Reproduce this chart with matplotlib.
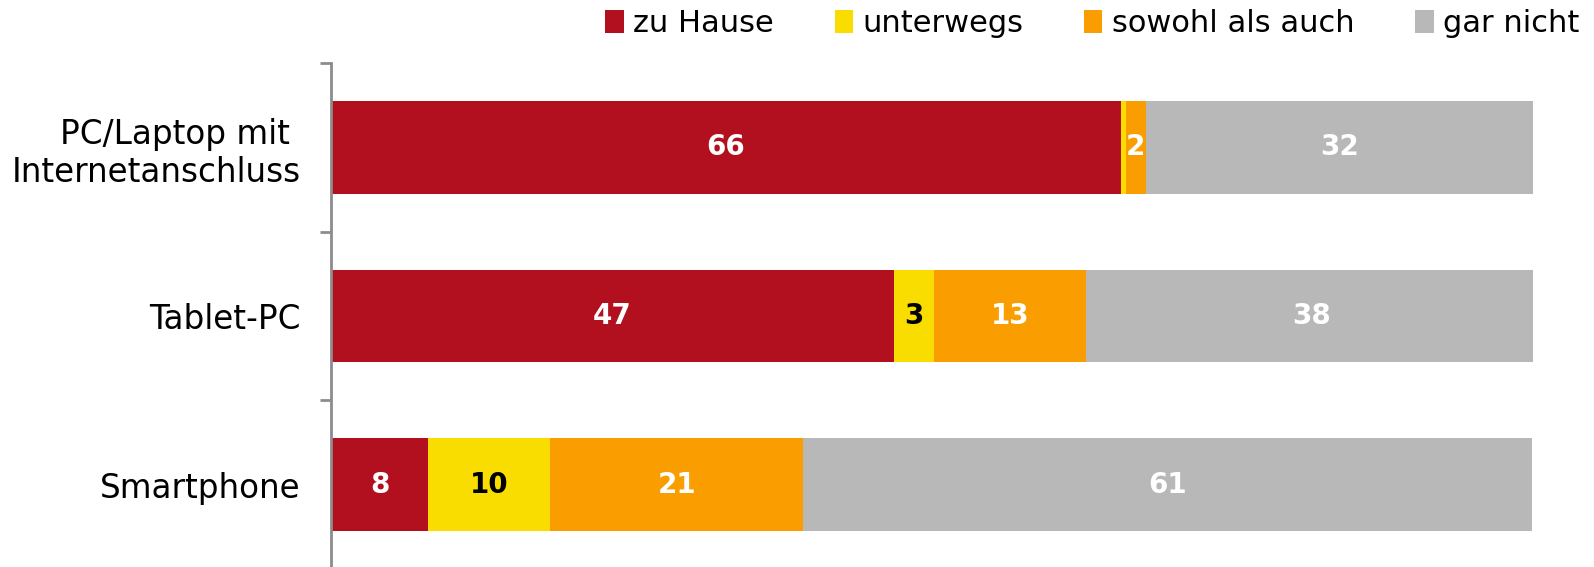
import matplotlib.pyplot as plt
import numpy as np

categories = ["PC/Laptop mit \nInternetanschluss", "Tablet-PC", "Smartphone"]
series = ["zu Hause", "unterwegs", "sowohl als auch", "gar nicht"]
zu_hause = [65.7, 46.8, 8.1]
unterwegs = [0.4, 3.4, 10.1]
sowohl = [1.7, 12.6, 21.1]
gar_nicht = [32.2, 37.6, 60.6]
colors = ["#B2101F", "#F9DC00", "#F99D00", "#B8B8B8"]
text_colors = ["white", "black", "white", "white"]

fig = plt.figure(figsize=(15.94, 5.67), dpi=100)
ax = fig.add_axes([331 / 1594, -2 / 567, 1202 / 1594, 506 / 567])

y = np.arange(len(categories))
left = np.zeros(len(categories))
for name, vals, col, tcol in zip(series, [zu_hause, unterwegs, sowohl, gar_nicht], colors, text_colors):
    bars = ax.barh(y, vals, left=left, height=0.55, color=col, label=name)
    for b, v in zip(bars, vals):
        if v >= 1:
            ax.text(b.get_x() + b.get_width() / 2, b.get_y() + b.get_height() / 2,
                    "%d" % round(v), ha="center", va="center", color=tcol,
                    fontsize=20, fontweight="bold")
    left += np.array(vals)

ax.set_xlim(0, 100)
ax.set_ylim(len(categories) - 0.5, -0.5)
ax.set_yticks(y)
ax.set_yticklabels(categories, fontsize=23.5, linespacing=1.2)
ax.set_yticks(np.arange(len(categories)) - 0.5, minor=True)
ax.tick_params(axis="y", which="major", length=0, pad=22)
ax.tick_params(axis="y", which="minor", length=8, width=2, color="#8c8c8c", direction="out")
ax.set_xticks([])
for s in ["top", "right", "bottom"]:
    ax.spines[s].set_visible(False)
ax.spines["left"].set_color("#8c8c8c")
ax.spines["left"].set_linewidth(2)

fig.legend(loc="upper right", bbox_to_anchor=(1.008, 1.032), ncol=4, frameon=False,
           fontsize=22, handlelength=0.6, handleheight=0.8, handletextpad=0.3,
           columnspacing=2.0)

plt.savefig("out.png")
